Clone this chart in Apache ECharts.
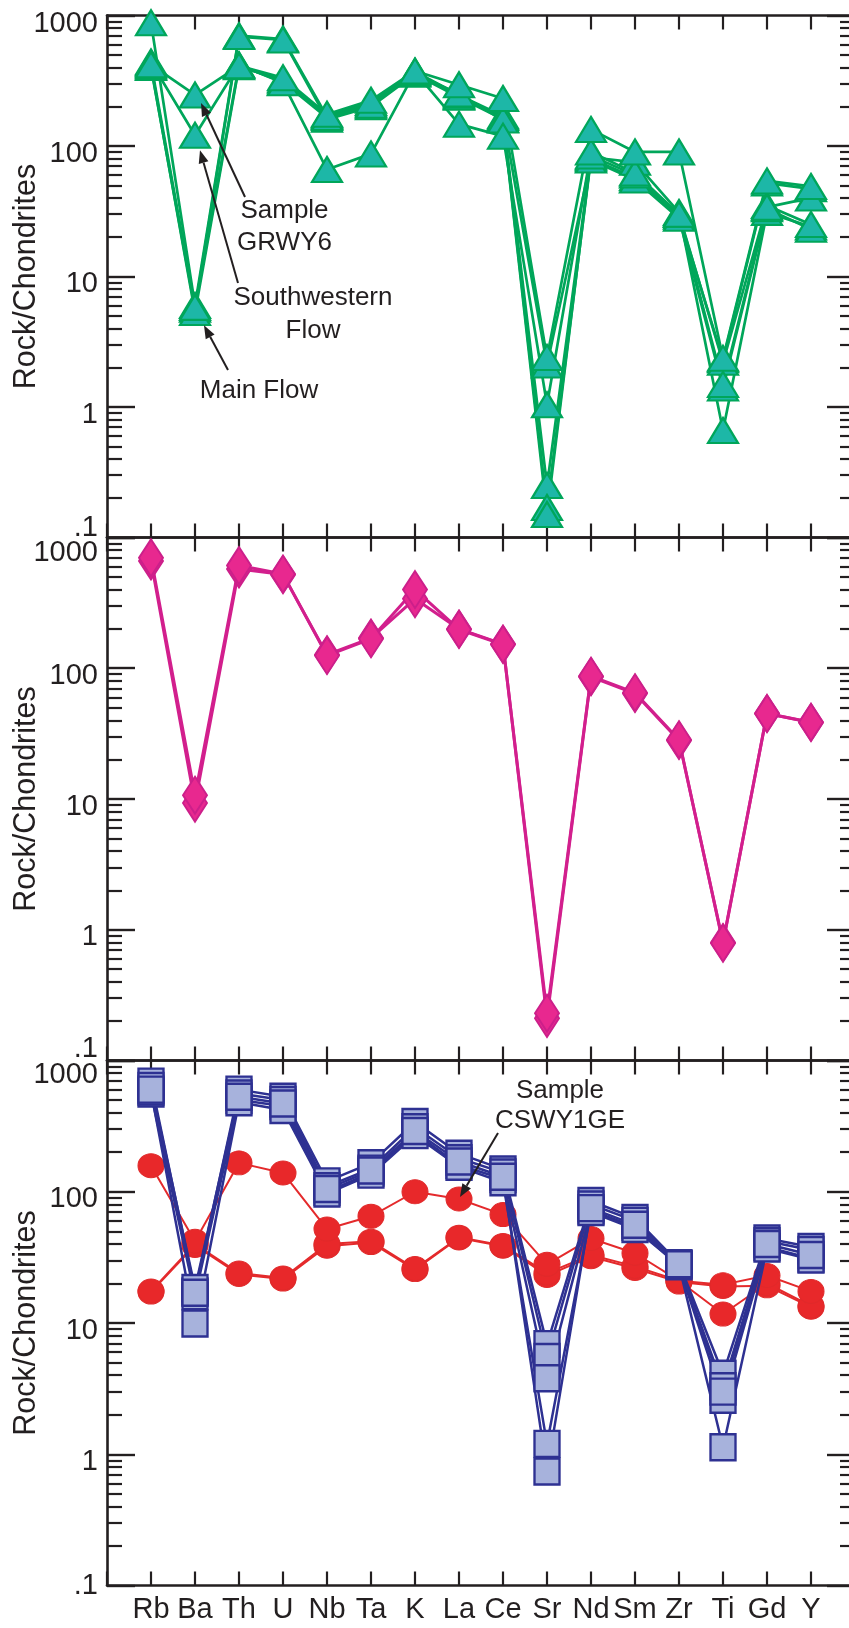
<!DOCTYPE html>
<html>
<head>
<meta charset="utf-8">
<script src="https://cdn.jsdelivr.net/npm/echarts@6/dist/echarts.min.js"></script>
<style>html,body{margin:0;padding:0;background:#fff}#c{width:849px;height:1628px}</style>
</head>
<body>
<div id="c"></div>
<script>
// ---------- data ----------
const elements = ['Rb','Ba','Th','U','Nb','Ta','K','La','Ce','Sr','Nd','Sm','Zr','Ti','Gd','Y'];
const yTickValues = [0.1, 1, 10, 100, 1000];
const yTickLabels = ['.1', '1', '10', '100', '1000'];
const minorTickValues = [0.2,0.3,0.4,0.5,0.6,0.7,0.8,0.9, 2,3,4,5,6,7,8,9, 20,30,40,50,60,70,80,90, 200,300,400,500,600,700,800,900];

// Panel 1 (green triangles)
const grwy6          = [420, 246, 412, 333, 175, 224, 376, 295, 231, 2.4, 134, 90, 90, 2.36, 54, 49];
const southwestern   = [440, 121, 420, 305, 66, 87, 370, 147, 119, 1.04, 90, 62, 30, 1.49, 34, 40];
const mainFlowA      = [880, 6.0, 700, 660, 168, 210, 365, 240, 165, 0.25, 82, 75, 31, 0.66, 31, 24];
const mainFlowB      = [400, 5.6, 690, 650, 160, 200, 355, 236, 160, 0.17, 80, 57, 29, 2.3, 52, 47];
const mainFlowC      = [410, 5.3, 405, 320, 172, 215, 372, 245, 170, 2.1, 78, 55, 28, 1.4, 33, 23];
const mainFlowD      = [430, 5.8, 415, 310, 165, 205, 360, 250, 158, 0.15, 84, 60, 30, 2.2, 35, 25];

// Panel 2 (magenta diamonds)
const magentaA = [700, 10.7, 610, 525, 125, 168, 400, 198, 152, 0.23, 87, 65, 28.4, 0.79, 45, 38.6];
const magentaB = [660, 9.3, 575, 520, 127, 170, 340, 200, 153, 0.21, 86, 64, 28, 0.8, 45, 38.5];

// Panel 3 (blue squares)
const blueA = [690, 17.4, 600, 530, 120, 165, 340, 195, 148, 6.9, 85, 63, 28.5, 4.1, 44, 38];
const blueB = [640, 18.5, 560, 500, 110, 150, 310, 180, 140, 5.5, 80, 60, 28, 3.3, 42, 36];
const blueC = [560, 16, 500, 450, 100, 140, 280, 160, 125, 3.8, 72, 54, 27, 2.6, 38, 31];
const blueD = [580, 9.9, 480, 420, 97, 135, 270, 155, 118, 1.2, 70, 52, 27.5, 1.13, 37, 30.5];
const blueE = [600, 17, 530, 470, 105, 145, 290, 170, 130, 0.74, 75, 56, 28, 3.0, 40, 33];
// Panel 3 (red circles)
const cswy1ge = [158, 42, 166, 139, 52, 65, 100, 88, 67, 28, 44, 34, 21, 19.6, 23, 17.4];
const redB    = [17.2, 39, 23.4, 21.6, 38.5, 41, 25.5, 44.5, 38.5, 23, 32, 26, 20.5, 19, 19.2, 13.2];
const redC    = [17.5, 40, 24, 22, 40, 42, 26, 45, 39, 24, 33, 27, 21, 11.7, 20, 13.5];

// ---------- styles / layout ----------
const INK = '#231f20';
const FONT = 'Liberation Sans';
const panels = [
  {left: 107, width: 748, top: 15.5, height: 522},
  {left: 107, width: 748, top: 537.5, height: 523},
  {left: 107, width: 748, top: 1060.5, height: 525}
];
const labelShifts = [{top: 8, mid: 7.5, bot: -10}, {top: 15, mid: 7.5, bot: -11.5}, {top: 14, mid: 7.5, bot: 0}];

function pad(shift) {
  return [Math.max(0, 2 * shift), 0, Math.max(0, -2 * shift), 0];
}
function yRich(s) {
  const base = {fontFamily: FONT, fontSize: 29, color: INK};
  return {
    t: Object.assign({padding: pad(s.top)}, base),
    m: Object.assign({padding: pad(s.mid)}, base),
    b: Object.assign({padding: pad(s.bot)}, base)
  };
}
function yFormatter(v) {
  const k = yTickValues.findIndex(t => Math.abs(Math.log10(t) - Math.log10(v)) < 1e-6);
  if (k < 0) return '';
  const txt = yTickLabels[k];
  if (k === yTickValues.length - 1) return '{t|' + txt + '}';
  if (k === 0) return '{b|' + txt + '}';
  return '{m|' + txt + '}';
}

// grids 0..2: main panels; grids 3..5: overlay grids carrying the minor y ticks
const grids = [];
panels.forEach(p => grids.push(Object.assign({containLabel: false, outerBoundsMode: 'none'}, p)));
panels.forEach(p => grids.push(Object.assign({containLabel: false, outerBoundsMode: 'none'}, p)));

const xAxes = [];
const yAxes = [];
panels.forEach((g, gi) => {
  ['bottom', 'top'].forEach(pos => {
    xAxes.push({
      type: 'value', gridIndex: gi, position: pos, min: 0, max: 17, interval: 1,
      axisLine: {show: true, onZero: false, lineStyle: {color: INK, width: 2.6}},
      axisTick: {show: true, inside: true, length: 14, lineStyle: {color: INK, width: 2.2}},
      axisLabel: {
        show: gi === 2 && pos === 'bottom', interval: 0, margin: 10,
        formatter: v => elements[v - 1] || '',
        fontFamily: FONT, fontSize: 29, color: INK
      },
      splitLine: {show: false}
    });
  });
  ['left', 'right'].forEach(pos => {
    yAxes.push({
      type: 'log', logBase: 10, gridIndex: gi, position: pos, offset: 0, min: 0.1, max: 1000,
      axisLine: {show: true, onZero: false, lineStyle: {color: INK, width: 2.6}},
      axisTick: {show: true, inside: true, length: 28, customValues: yTickValues, lineStyle: {color: INK, width: 2.4}},
      axisLabel: {
        show: pos === 'left', customValues: yTickValues, margin: 9,
        formatter: yFormatter, rich: yRich(labelShifts[gi]),
        fontFamily: FONT, fontSize: 29, color: INK
      },
      splitLine: {show: false}, minorTick: {show: false},
      name: pos === 'left' ? 'Rock/Chondrites' : '',
      nameLocation: 'middle', nameGap: 65, nameRotate: 90, nameMoveOverlap: false,
      nameTextStyle: {fontFamily: FONT, fontSize: 30.5, color: INK}
    });
  });
});
panels.forEach((g, gi) => {
  xAxes.push({
    type: 'value', gridIndex: 3 + gi, position: 'bottom', min: 0, max: 17, interval: 1, show: false
  });
  ['left', 'right'].forEach(pos => {
    yAxes.push({
      type: 'log', logBase: 10, gridIndex: 3 + gi, position: pos, offset: 0, min: 0.1, max: 1000,
      axisLine: {show: false},
      axisTick: {show: true, inside: true, length: 15, customValues: minorTickValues, lineStyle: {color: INK, width: 2.2}},
      axisLabel: {show: false},
      splitLine: {show: false}, minorTick: {show: false}
    });
  });
});

const styles = {
  green:   {line: '#00a65a', lw: 2.7, symbol: 'triangle', size: [30, 25], fill: '#1db7a7', border: '#00a65a', bw: 2.2},
  magenta: {line: '#d21f8d', lw: 3, symbol: 'diamond', size: [24, 37], fill: '#e8288f', border: '#cc1f8a', bw: 2},
  blue:    {line: '#2e3192', lw: 2.5, symbol: 'rect', size: [25, 26], fill: '#a7b2dc', border: '#2e3192', bw: 2.4},
  red:     {line: '#e42a2c', lw: 2, symbol: 'circle', size: [26, 24], fill: '#e8282a', border: '#e02a2b', bw: 1}
};

const series = [];
const seriesIndexOf = {};
function addGroup(name, arr, gi, st, zBase) {
  const data = arr.map((v, i) => [i + 1, v]);
  series.push({
    type: 'line', name: name + '-line', xAxisIndex: gi * 2, yAxisIndex: gi * 2,
    data: data, symbol: 'none', z: zBase, silent: true, animation: false,
    lineStyle: {color: st.line, width: st.lw}
  });
  seriesIndexOf[name] = series.length;
  series.push({
    type: 'scatter', name: name, xAxisIndex: gi * 2, yAxisIndex: gi * 2,
    data: data, symbol: st.symbol, symbolSize: st.size, z: zBase + 1, silent: true, animation: false,
    itemStyle: {color: st.fill, borderColor: st.border, borderWidth: st.bw, opacity: 1}
  });
}
addGroup('mainFlowA', mainFlowA, 0, styles.green, 2);
addGroup('mainFlowB', mainFlowB, 0, styles.green, 2);
addGroup('mainFlowC', mainFlowC, 0, styles.green, 2);
addGroup('mainFlowD', mainFlowD, 0, styles.green, 2);
addGroup('southwestern', southwestern, 0, styles.green, 2);
addGroup('grwy6', grwy6, 0, styles.green, 2);
addGroup('magentaB', magentaB, 1, styles.magenta, 2);
addGroup('magentaA', magentaA, 1, styles.magenta, 2);
addGroup('redB', redB, 2, styles.red, 2);
addGroup('redC', redC, 2, styles.red, 2);
addGroup('cswy1ge', cswy1ge, 2, styles.red, 2);
addGroup('blueA', blueA, 2, styles.blue, 4);
addGroup('blueB', blueB, 2, styles.blue, 4);
addGroup('blueC', blueC, 2, styles.blue, 4);
addGroup('blueD', blueD, 2, styles.blue, 4);
addGroup('blueE', blueE, 2, styles.blue, 4);

const chart = echarts.init(document.getElementById('c'), null, {renderer: 'canvas', width: 849, height: 1628});
chart.setOption({
  backgroundColor: '#ffffff',
  animation: false,
  grid: grids,
  xAxis: xAxes,
  yAxis: yAxes,
  series: series
});

// ---------- annotations ----------
const annoFont = {fontFamily: FONT, fontSize: 26, fill: INK};
const texts = [
  ['Sample', 284.5, 210.5], ['GRWY6', 284.5, 243],
  ['Southwestern', 313, 298], ['Flow', 313, 330.5],
  ['Main Flow', 259, 391],
  ['Sample', 560, 1090.5], ['CSWY1GE', 560, 1120.5]
];
const arrows = [
  {s: 'grwy6', el: 'Ba', arr: grwy6, off: [6, 8], tail: [245, 197]},
  {s: 'southwestern', el: 'Ba', arr: southwestern, off: [5, 15], tail: [238, 283]},
  {s: 'mainFlowB', el: 'Ba', arr: mainFlowB, off: [9, 16], tail: [228, 370]},
  {s: 'cswy1ge', el: 'La', arr: cswy1ge, off: [1, -2], tail: [498, 1133]}
];
const graphics = [];
texts.forEach(t => {
  graphics.push({
    type: 'text', z: 50, silent: true,
    style: Object.assign({text: t[0], x: t[1], y: t[2], align: 'center', verticalAlign: 'middle',
      textAlign: 'center', textVerticalAlign: 'middle'}, annoFont)
  });
});
arrows.forEach(a => {
  const xi = elements.indexOf(a.el) + 1;
  const p = chart.convertToPixel({seriesIndex: seriesIndexOf[a.s]}, [xi, a.arr[xi - 1]]);
  const tip = [p[0] + a.off[0], p[1] + a.off[1]];
  const dx = tip[0] - a.tail[0], dy = tip[1] - a.tail[1];
  const len = Math.sqrt(dx * dx + dy * dy);
  const ux = dx / len, uy = dy / len;
  const hl = 13, hw = 5;
  const base = [tip[0] - ux * hl, tip[1] - uy * hl];
  graphics.push({
    type: 'line', z: 50, silent: true,
    shape: {x1: a.tail[0], y1: a.tail[1], x2: base[0], y2: base[1]},
    style: {stroke: INK, lineWidth: 2}
  });
  graphics.push({
    type: 'polygon', z: 50, silent: true,
    shape: {points: [tip, [base[0] - uy * hw, base[1] + ux * hw], [base[0] + uy * hw, base[1] - ux * hw]]},
    style: {fill: INK}
  });
});
chart.setOption({graphic: graphics});
</script>
</body>
</html>
